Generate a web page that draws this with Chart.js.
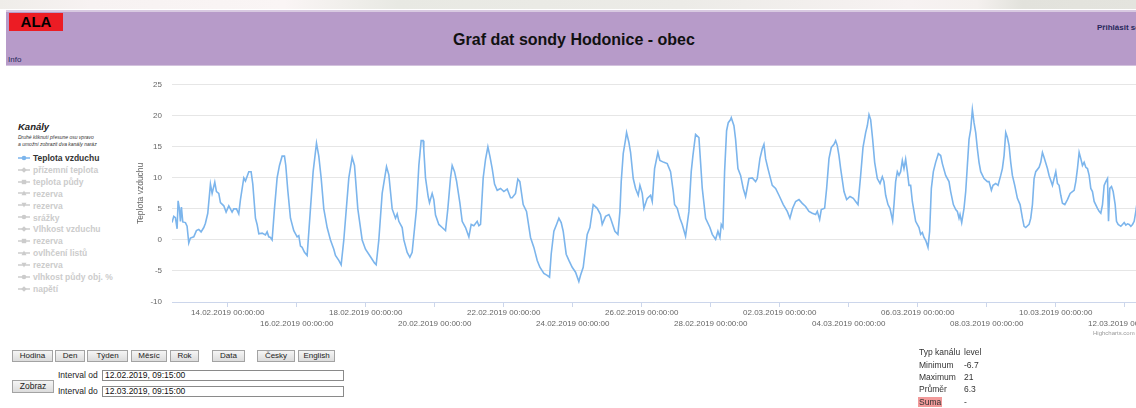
<!DOCTYPE html>
<html lang="cs">
<head>
<meta charset="utf-8">
<title>Graf dat sondy Hodonice - obec</title>
<script src="https://cdn.jsdelivr.net/npm/chart.js@4.4.1/dist/chart.umd.min.js"></script>
<style>
html, body { margin: 0; padding: 0; width: 1136px; height: 408px; overflow: hidden; background: #fff;
  font-family: "Liberation Sans", Arial, sans-serif; color: #222; }
.abs { position: absolute; white-space: nowrap; }
#pruh { left: 0; top: 0; width: 1136px; height: 9px;
  background: linear-gradient(90deg, #efede9 0%, #f7f2f2 8%, #faf5f5 25%, #e8e9e3 35%, #ecebe7 60%, #f7f2f2 80%, #f4f0ee 86%, #e2e2dc 90%, #e4e4de 100%); }
#hlavicka { left: 6px; top: 10px; width: 1130px; height: 56px; background: #b79bc9;
  border-top: 2px solid #d8c9e1; border-bottom: 1px solid #d3c2dd; box-sizing: border-box; }
#ala { left: 9px; top: 13px; width: 54px; height: 18px; background: #ec1c24; color: #000;
  font-weight: bold; font-size: 15px; line-height: 18px; text-align: center; }
#nadpis { left: 374px; top: 31px; width: 400px; text-align: center; font-weight: bold; font-size: 16px; line-height: 18px; color: #111; }
#prihlasit { left: 1097px; top: 23px; font-weight: bold; font-size: 8px; color: #28285a; }
#info { left: 8px; top: 55px; font-size: 8px; color: #28285a; }
#graf { position: absolute; left: 132px; top: 70px; }
#kanaly { left: 18px; top: 121px; font-weight: bold; font-style: italic; font-size: 9.5px; color: #222; }
.pozn { left: 18px; font-style: italic; font-size: 5px; color: #333; }
.pol { left: 18px; height: 12px; font-weight: bold; font-size: 8.5px; line-height: 12px; color: #ccc; }
.pol svg { vertical-align: middle; margin-right: 3px; position: relative; top: -1px; }
.tl { top: 350px; height: 12px; border: 1px solid #a3a3a3; box-sizing: border-box; background: linear-gradient(#f5f5f5, #dcdcdc);
  font-size: 8px; line-height: 10px; text-align: center; color: #222; }
.pole { left: 102px; width: 242px; height: 11px; border: 1px solid #8a8a8a; box-sizing: border-box; background: #fff;
  font-size: 8.5px; line-height: 9px; padding-left: 2px; color: #111; }
.stat { font-size: 8.5px; color: #333; line-height: 10px; }
#kredit { left: 1093px; top: 330px; font-size: 6px; color: #999; }
</style>
</head>
<body>
<div id="pruh" class="abs"></div>
<div id="hlavicka" class="abs"></div>
<div id="ala" class="abs">ALA</div>
<div id="nadpis" class="abs">Graf dat sondy Hodonice - obec</div>
<div id="prihlasit" class="abs">Přihlásit se</div>
<div id="info" class="abs">Info</div>

<div id="kanaly" class="abs">Kanály</div>
<div class="abs pozn" style="top:134px">Druhé kliknutí přesune osu vpravo</div>
<div class="abs pozn" style="top:141px">a umožní zobrazit dva kanály naráz</div>
<div id="legenda"></div>

<canvas id="graf" width="1006" height="272"></canvas>
<div id="kredit" class="abs">Highcharts.com</div>

<div class="abs tl" style="left:12px;width:41px">Hodina</div>
<div class="abs tl" style="left:55px;width:30px">Den</div>
<div class="abs tl" style="left:87px;width:41px">Týden</div>
<div class="abs tl" style="left:131px;width:36px">Měsíc</div>
<div class="abs tl" style="left:170px;width:29px">Rok</div>
<div class="abs tl" style="left:212px;width:33px">Data</div>
<div class="abs tl" style="left:257px;width:38px">Česky</div>
<div class="abs tl" style="left:298px;width:37px">English</div>
<div class="abs tl" style="left:12px;top:380px;width:42px;height:13px;font-size:8.5px;line-height:11px">Zobraz</div>
<div class="abs" style="left:58px;top:370px;font-size:8.5px;line-height:10px">Interval od</div>
<div class="abs pole" style="top:370px">12.02.2019, 09:15:00</div>
<div class="abs" style="left:58px;top:386px;font-size:8.5px;line-height:10px">Interval do</div>
<div class="abs pole" style="top:386px">12.03.2019, 09:15:00</div>

<div class="abs stat" style="left:919px;top:347px">Typ kanálu</div>
<div class="abs stat" style="left:964px;top:347px">level</div>
<div class="abs stat" style="left:919px;top:360px">Minimum</div>
<div class="abs stat" style="left:964px;top:360px">-6.7</div>
<div class="abs stat" style="left:919px;top:372px">Maximum</div>
<div class="abs stat" style="left:964px;top:372px">21</div>
<div class="abs stat" style="left:919px;top:384px">Průměr</div>
<div class="abs stat" style="left:964px;top:384px">6.3</div>
<div class="abs stat" style="left:918px;top:397px;background:#f29a9a;padding:0 1px">Suma</div>
<div class="abs stat" style="left:964px;top:397px">-</div>

<script>
// cas mereni: dny od 12.02.2019 00:00
var casy = [
  0.385, 0.436, 0.484, 0.533, 0.562, 0.600, 0.629, 0.658, 0.697, 0.774,
  0.822, 0.871, 0.919, 1.016, 1.093, 1.161, 1.228, 1.306, 1.354, 1.422,
  1.499, 1.548, 1.625, 1.673, 1.741, 1.789, 1.886, 1.953, 2.031, 2.127,
  2.176, 2.253, 2.320, 2.369, 2.466, 2.514, 2.611, 2.678, 2.727, 2.804,
  2.852, 2.901, 2.997, 3.094, 3.142, 3.190, 3.239, 3.287, 3.355, 3.432,
  3.500, 3.577, 3.645, 3.683, 3.741, 3.819, 3.915, 4.012, 4.060, 4.109,
  4.157, 4.225, 4.302, 4.398, 4.476, 4.573, 4.640, 4.708, 4.785, 4.882,
  4.978, 5.075, 5.123, 5.220, 5.288, 5.365, 5.510, 5.607, 5.675, 5.771,
  5.897, 5.993, 6.138, 6.254, 6.303, 6.380, 6.477, 6.603, 6.670, 6.767,
  6.863, 6.912, 6.960, 7.057, 7.105, 7.202, 7.279, 7.346, 7.472, 7.540,
  7.607, 7.665, 7.684, 7.733, 7.810, 7.849, 7.926, 7.974, 8.023, 8.119,
  8.216, 8.313, 8.380, 8.458, 8.506, 8.574, 8.632, 8.728, 8.796, 8.893,
  8.990, 9.057, 9.134, 9.231, 9.280, 9.328, 9.405, 9.473, 9.541, 9.599,
  9.666, 9.734, 9.811, 9.908, 10.004, 10.101, 10.198,
  10.245, 10.342, 10.410, 10.468, 10.564, 10.661, 10.777, 10.874, 10.971, 11.048,
  11.164, 11.260, 11.328, 11.376, 11.454, 11.531, 11.599, 11.666, 11.724, 11.811,
  11.889, 11.985, 12.082, 12.178, 12.227, 12.304, 12.420, 12.498, 12.594, 12.710,
  12.807, 12.855, 12.952, 13.049, 13.097, 13.223, 13.310, 13.368, 13.406, 13.464,
  13.532, 13.561, 13.629, 13.677, 13.754, 13.822, 13.899, 13.948, 14.015, 14.063,
  14.160, 14.257, 14.305, 14.373, 14.469, 14.527, 14.643, 14.740, 14.836, 14.914,
  14.952, 15.030, 15.107, 15.175, 15.271, 15.368, 15.435, 15.484, 15.561, 15.658,
  15.706, 15.755, 15.852, 15.977, 16.045, 16.142, 16.209, 16.267, 16.306, 16.354,
  16.402, 16.460, 16.509, 16.576, 16.596, 16.673, 16.721, 16.789, 16.866, 16.943,
  17.011, 17.108, 17.204, 17.301, 17.349, 17.426, 17.494, 17.543, 17.591, 17.659,
  17.784, 17.881, 17.978, 18.103, 18.219, 18.296, 18.374, 18.461, 18.558, 18.654,
  18.751, 18.848, 18.944, 19.041, 19.089, 19.157, 19.205, 19.302, 19.360, 19.428,
  19.495, 19.573, 19.621, 19.669, 19.718, 19.766, 19.863, 19.940, 20.037, 20.133,
  20.201, 20.269, 20.346, 20.414, 20.491, 20.539, 20.588, 20.636, 20.694, 20.752,
  20.829, 20.907,
  20.974, 21.022, 21.071, 21.138, 21.196, 21.235, 21.273, 21.312, 21.360, 21.409,
  21.457, 21.505, 21.554, 21.602, 21.650, 21.699, 21.747, 21.795, 21.844, 21.892,
  21.940, 22.037, 22.085, 22.134, 22.182, 22.240, 22.298, 22.346, 22.395, 22.453,
  22.520, 22.598, 22.665, 22.714, 22.810, 22.907, 22.955, 23.033, 23.101, 23.149,
  23.197, 23.226, 23.275, 23.342, 23.391, 23.439, 23.487, 23.536, 23.584, 23.632,
  23.681, 23.729, 23.777, 23.826, 23.922, 24.019, 24.067, 24.135, 24.183, 24.261,
  24.328, 24.406, 24.454, 24.503, 24.551, 24.599, 24.648, 24.696, 24.744, 24.812,
  24.889, 24.967, 25.035, 25.083, 25.131, 25.228, 25.276, 25.325, 25.373, 25.421,
  25.518, 25.566, 25.615, 25.663, 25.760, 25.808, 25.905, 25.953, 26.002, 26.050,
  26.098, 26.147, 26.195, 26.263, 26.340, 26.418, 26.485, 26.534, 26.582, 26.630,
  26.679, 26.727, 26.775, 26.824, 26.872, 26.920, 26.969, 27.017, 27.065, 27.114,
  27.210, 27.259, 27.307, 27.356, 27.404, 27.452, 27.501, 27.530, 27.568, 27.617,
  27.665, 27.723, 27.762, 27.810, 27.887, 27.935, 27.984, 28.032, 28.081, 28.129,
  28.177, 28.226, 28.274, 28.322, 28.351, 28.385
];

// Teplota vzduchu [°C]
var teplota = [
  2.8, 3.8, 3.6, 1.8, 6.3, 5.0, 3.0, 5.3, 2.9, 2.8,
  2.2, -0.5, 0.3, 0.5, 1.5, 1.7, 1.3, 2.0, 2.7, 4.3,
  9.0, 7.5, 9.3, 7.8, 7.5, 6.0, 5.5, 4.5, 5.5, 4.5,
  5.0, 5.0, 4.2, 6.5, 10.0, 9.5, 11.0, 11.0, 9.0, 3.5,
  2.5, 1.0, 1.1, 0.8, 1.3, 0.5, 0.4, 0.0, 5.0, 10.0,
  12.0, 13.5, 13.5, 12.0, 8.0, 3.5, 1.5, 0.5, 0.7, -1.0,
  -1.2, -2.0, -2.5, 5.0, 11.0, 15.6, 13.5, 10.0, 5.0, 2.0,
  0.0, -1.5, -2.5, -3.3, -4.0, 0.0, 10.0, 13.3, 12.0, 5.0,
  0.0, -1.5, -2.7, -3.7, -4.0, 0.0, 7.5, 11.8, 10.5, 5.0,
  3.5, 4.2, 3.0, 2.0, 0.0, -2.0, -2.8, -2.0, 5.0, 12.0,
  16.0, 16.0, 14.5, 10.0, 7.0, 6.0, 7.5, 6.5, 4.0, 2.5,
  2.0, 1.5, 5.0, 10.0, 12.0, 11.0, 9.5, 6.0, 3.0, 2.0,
  0.5, 2.5, 2.3, 3.0, 2.3, 2.5, 10.0, 13.0, 15.0, 13.5,
  11.5, 9.0, 8.0, 8.3, 7.8, 8.2, 6.8,
  6.8, 7.5, 9.8, 9.4, 5.7, 4.6, 0.4, -1.2, -3.3, -4.4,
  -5.4, -5.7, -6.0, -2.3, 1.4, 2.5, 3.5, 2.8, 1.4, -2.3,
  -3.3, -4.4, -5.2, -6.7, -5.7, -4.4, 0.9, 2.0, 5.7, 5.1,
  4.1, 2.5, 3.8, 4.1, 3.5, 1.4, 0.9, 4.6, 9.4, 13.9,
  16.2, 17.3, 15.7, 14.1, 9.9, 8.3, 7.2, 8.8, 7.5, 5.1,
  6.7, 7.2, 6.2, 11.5, 14.1, 12.8, 12.5, 12.3, 11.0, 7.8,
  5.7, 5.1, 3.5, 2.5, 0.6, 4.6, 11.0, 13.6, 17.0, 16.5,
  12.5, 8.3, 3.5, 2.0, 0.9, 0.1, 1.4, 0.4, 2.5, 2.0,
  11.0, 17.6, 18.9, 19.4, 19.7, 18.4, 16.2, 11.5, 10.4, 8.3,
  7.0, 9.9, 10.0, 9.4, 9.9, 13.1, 14.7, 15.4, 13.1, 11.5,
  8.8, 8.3, 7.2, 5.7, 4.6, 3.5, 5.1, 6.2, 6.5, 5.9,
  5.4, 4.6, 4.3, 4.1, 4.6, 3.3, 4.9, 5.1, 8.3, 13.1,
  14.9, 15.4, 16.0, 15.2, 13.6, 11.5, 7.8, 6.5, 7.0, 6.7,
  6.2, 5.7, 10.4, 14.9, 17.3, 18.4, 20.2, 19.4, 16.2, 12.5,
  9.9, 9.1,
  10.2, 9.4, 7.2, 5.7, 5.1, 4.1, 3.1, 5.7, 9.4, 11.0,
  10.4, 11.0, 12.8, 11.5, 13.0, 11.0, 8.8, 8.8, 6.2, 4.6,
  3.0, 2.0, 0.9, 1.2, 0.4, -0.2, -1.2, 1.4, 8.3, 11.0,
  12.5, 13.9, 13.6, 12.3, 10.4, 9.4, 7.8, 5.7, 4.9, 4.6,
  3.5, 4.1, 2.8, 5.1, 7.8, 12.0, 16.2, 17.8, 21.0, 18.9,
  17.3, 14.7, 12.5, 11.0, 9.9, 9.4, 9.4, 8.0, 8.8, 9.1,
  8.8, 10.4, 11.5, 13.6, 17.3, 16.5, 15.2, 12.5, 10.4, 8.8,
  6.7, 5.7, 3.5, 2.2, 2.0, 2.5, 3.5, 5.7, 9.9, 11.0,
  11.7, 12.5, 14.1, 13.3, 11.5, 10.4, 8.8, 9.9, 11.0, 9.1,
  8.8, 7.2, 5.9, 5.7, 6.5, 7.5, 7.8, 8.0, 9.4, 11.5,
  14.1, 13.1, 12.0, 12.5, 11.7, 11.5, 10.4, 8.3, 7.8, 6.2,
  5.1, 4.6, 4.3, 5.7, 8.8, 9.4, 9.9, 3.0, 8.3, 8.6,
  7.8, 5.7, 3.0, 2.5, 2.2, 2.5, 2.8, 2.4, 2.6, 2.5,
  2.2, 2.5, 3.0, 4.6, 5.7, 6.2
];

var osaY = { min: -10, max: 25, krok: 5 };
var osaX = { od: 0.385, do: 28.385 };
var dnyPopisku = [2, 4, 6, 8, 10, 12, 14, 16, 18, 20, 22, 24, 26, 28];
var popisky = ['14.02.2019 00:00:00', '16.02.2019 00:00:00', '18.02.2019 00:00:00', '20.02.2019 00:00:00',
  '22.02.2019 00:00:00', '24.02.2019 00:00:00', '26.02.2019 00:00:00', '28.02.2019 00:00:00',
  '02.03.2019 00:00:00', '04.03.2019 00:00:00', '06.03.2019 00:00:00', '08.03.2019 00:00:00',
  '10.03.2019 00:00:00', '12.03.2019 00:00:00'];

var kanaly = ['Teplota vzduchu', 'přízemní teplota', 'teplota půdy', 'rezerva', 'rezerva', 'srážky',
  'Vlhkost vzduchu', 'rezerva', 'ovlhčení listů', 'rezerva', 'vlhkost půdy obj. %', 'napětí'];
var znacky = ['kruh', 'kosoctverec', 'ctverec', 'trojuhelnik', 'trojuhelnik-dolu'];

// legenda vlevo (Highcharts styl)
var leg = document.getElementById('legenda');
kanaly.forEach(function (nazev, i) {
  var barva = i === 0 ? '#7cb5ec' : '#cccccc';
  var z = znacky[i % 5], tvar;
  if (z === 'kruh') tvar = '<circle cx="6" cy="4" r="2.3" fill="' + barva + '"/>';
  else if (z === 'kosoctverec') tvar = '<path d="M6 1.2 L8.8 4 L6 6.8 L3.2 4 Z" fill="' + barva + '"/>';
  else if (z === 'ctverec') tvar = '<rect x="3.8" y="1.8" width="4.4" height="4.4" fill="' + barva + '"/>';
  else if (z === 'trojuhelnik') tvar = '<path d="M6 1.5 L8.5 6.3 L3.5 6.3 Z" fill="' + barva + '"/>';
  else tvar = '<path d="M3.5 1.7 L8.5 1.7 L6 6.5 Z" fill="' + barva + '"/>';
  var d = document.createElement('div');
  d.className = 'abs pol';
  d.style.top = (152 + i * 11.9) + 'px';
  if (i === 0) d.style.color = '#333';
  d.innerHTML = '<svg width="12" height="8"><line x1="0" y1="4" x2="12" y2="4" stroke="' + barva + '" stroke-width="1.5"/>' + tvar + '</svg>' + nazev;
  leg.appendChild(d);
});

Chart.defaults.font.family = '"Liberation Sans", Arial, sans-serif';

var body = casy.map(function (t, i) { return { x: t, y: teplota[i] }; });

new Chart(document.getElementById('graf'), {
  type: 'line',
  data: {
    datasets: [{
      label: 'Teplota vzduchu',
      data: body,
      borderColor: '#7cb5ec',
      borderWidth: 1.6,
      pointRadius: 0,
      tension: 0,
      fill: false
    }]
  },
  options: {
    responsive: false,
    animation: false,
    layout: { padding: { top: 11, left: 0, right: 0, bottom: 0 } },
    plugins: {
      legend: { display: false },
      tooltip: { enabled: false }
    },
    scales: {
      x: {
        type: 'linear',
        bounds: 'data',
        min: osaX.od,
        max: osaX.do,
        afterBuildTicks: function (s) {
          s.ticks = dnyPopisku.map(function (v) { return { value: v }; });
        },
        afterFit: function (s) {
          s.height = 40;
          s.paddingLeft = 0;
          s.paddingRight = 0;
        },
        ticks: {
          autoSkip: false,
          maxRotation: 0,
          minRotation: 0,
          color: '#666666',
          font: { size: 8, lineHeight: 1.3 },
          padding: 1,
          // popisky ve dvou radcich jako v Highcharts
          callback: function (v, i) {
            return i % 2 === 0 ? [popisky[i], ''] : ['', popisky[i]];
          }
        },
        grid: { drawOnChartArea: false, drawTicks: true, tickLength: 5, color: '#ccd6eb' },
        border: { color: '#ccd6eb', width: 1 }
      },
      y: {
        min: osaY.min,
        max: osaY.max,
        afterFit: function (s) { s.width = 40; },
        ticks: { stepSize: osaY.krok, color: '#666666', font: { size: 8 }, padding: 10 },
        grid: { color: '#e6e6e6', drawTicks: false },
        border: { display: false },
        title: { display: true, text: 'Teplota vzduchu', color: '#666666', font: { size: 8.5 } }
      }
    }
  }
});
</script>
</body>
</html>
